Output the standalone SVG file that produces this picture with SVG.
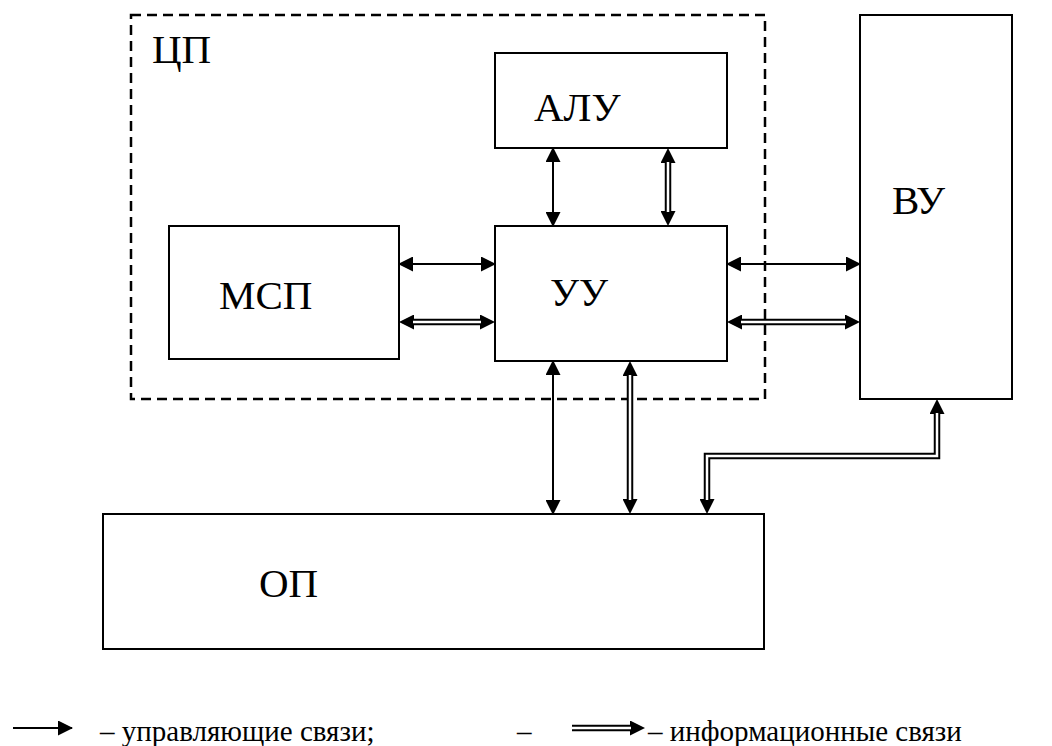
<svg xmlns="http://www.w3.org/2000/svg" width="1052" height="746" viewBox="0 0 1052 746">
<defs>
<marker id="ah" viewBox="0 0 15 15" refX="14" refY="7.5" markerWidth="15" markerHeight="15" markerUnits="userSpaceOnUse" orient="auto-start-reverse"><path d="M0,0 L15,7.5 L0,15 z" fill="#000"/></marker>
<marker id="ahd" viewBox="0 0 15 15" refX="5" refY="7.5" markerWidth="15" markerHeight="15" markerUnits="userSpaceOnUse" orient="auto-start-reverse"><path d="M0,0 L15,7.5 L0,15 z" fill="#000"/></marker>
</defs>
<rect width="1052" height="746" fill="#fff"/>
<g id="cpu"><rect x="131" y="15" width="634" height="384" fill="none" stroke="#000" stroke-width="2.5" stroke-dasharray="10 6"/><text style="font-family:'Liberation Serif';font-size:41px" x="152" y="63">ЦП</text></g>
<g id="alu"><rect x="495" y="53" width="232" height="95" fill="#fff" stroke="#000" stroke-width="2"/><text style="font-family:'Liberation Serif';font-size:41px" x="534" y="121">АЛУ</text></g>
<g id="msp"><rect x="169" y="226" width="230" height="133" fill="#fff" stroke="#000" stroke-width="2"/><text style="font-family:'Liberation Serif';font-size:41px" x="219" y="309">МСП</text></g>
<g id="uu"><rect x="495" y="226" width="232" height="135" fill="#fff" stroke="#000" stroke-width="2"/><text style="font-family:'Liberation Serif';font-size:41px" x="550" y="306">УУ</text></g>
<g id="vu"><rect x="860" y="15" width="152" height="384" fill="#fff" stroke="#000" stroke-width="2"/><text style="font-family:'Liberation Serif';font-size:41px" x="892" y="214">ВУ</text></g>
<g id="op"><rect x="103" y="514" width="661" height="135" fill="#fff" stroke="#000" stroke-width="2"/><text style="font-family:'Liberation Serif';font-size:41px" x="259" y="597">ОП</text></g>
<g id="connectors" fill="none">
<g stroke="#000" stroke-width="2" marker-start="url(#ah)" marker-end="url(#ah)">
<line x1="553" y1="148" x2="553" y2="226"/>
<line x1="399" y1="264" x2="495" y2="264"/>
<line x1="727" y1="264" x2="860" y2="264"/>
<line x1="553" y1="361" x2="553" y2="514"/>
</g>
<g stroke="#000" stroke-width="6.5" marker-start="url(#ahd)" marker-end="url(#ahd)">
<line x1="668" y1="158" x2="668" y2="216"/>
<line x1="409" y1="322" x2="485" y2="322"/>
<line x1="737" y1="322" x2="850" y2="322"/>
<line x1="630" y1="371" x2="630" y2="504"/>
<path d="M707,504 V456 H937 V409"/>
</g>
<g stroke="#fff" stroke-width="2.5">
<line x1="668" y1="162" x2="668" y2="212"/>
<line x1="413" y1="322" x2="481" y2="322"/>
<line x1="741" y1="322" x2="846" y2="322"/>
<line x1="630" y1="375" x2="630" y2="500"/>
<path d="M707,500 V456 H937 V413"/>
</g>
</g>
<g id="legend">
<line x1="13" y1="728" x2="72" y2="728" stroke="#000" stroke-width="2" marker-end="url(#ah)"/>
<text style="font-family:'Liberation Serif';font-size:29px" x="100" y="741">– управляющие связи;</text>
<text style="font-family:'Liberation Serif';font-size:29px" x="517" y="741">–</text>
<line x1="572" y1="728" x2="635" y2="728" stroke="#000" stroke-width="6.5" marker-end="url(#ahd)"/>
<line x1="572" y1="728" x2="631" y2="728" stroke="#fff" stroke-width="2.5"/>
<text style="font-family:'Liberation Serif';font-size:29px" x="648" y="741">– информационные связи</text>
</g>
</svg>
